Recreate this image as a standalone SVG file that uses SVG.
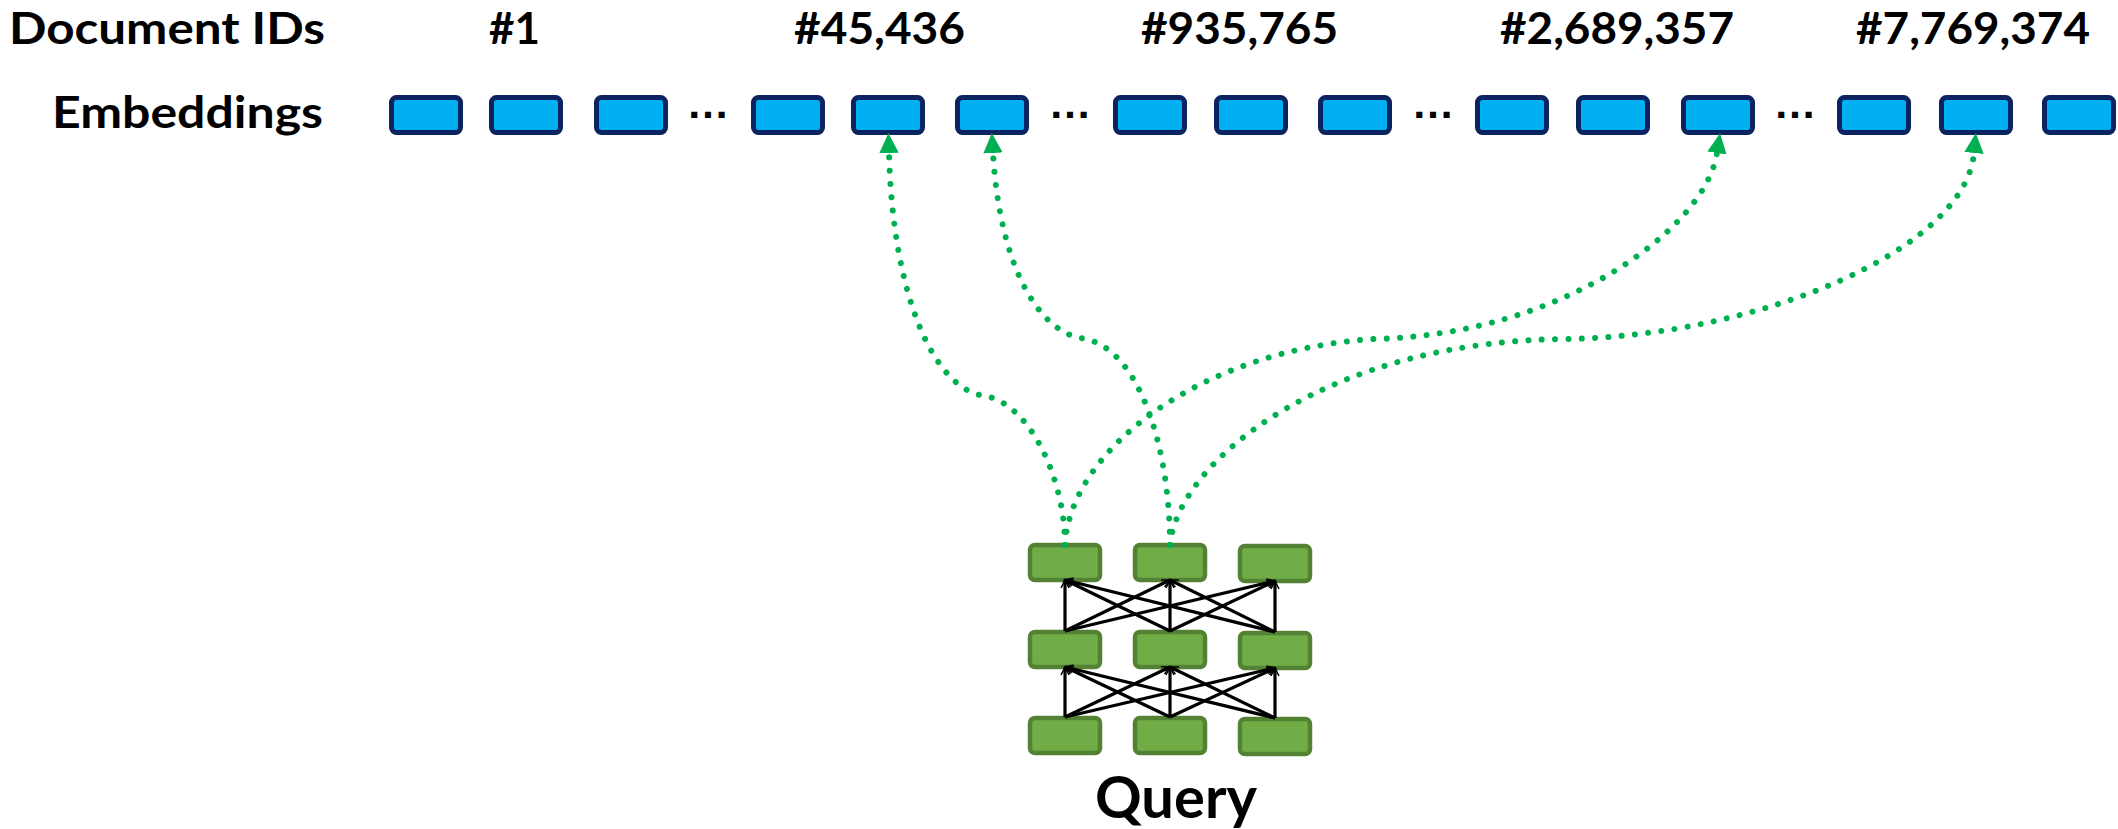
<svg xmlns="http://www.w3.org/2000/svg" width="2118" height="829" viewBox="0 0 2118 829">
<style>
.lbl{font-family:Lato,"Liberation Sans",sans-serif;font-weight:700;fill:#000}
.ell{font-family:"Liberation Sans",Arial,sans-serif;font-weight:700;font-size:43px;fill:#000}
.emb{fill:#00B0F0;stroke:#0B2461;stroke-width:5}
.nn{fill:#70AD47;stroke:#548235;stroke-width:4.5}
.dot{fill:none;stroke:#00B050;stroke-width:6;stroke-linecap:round;stroke-dasharray:0.01 13.3}
.edge{stroke:#000;stroke-width:3.2;fill:none}
</style>
<defs>
<marker id="ga" markerUnits="userSpaceOnUse" viewBox="0 -11 22 22" markerWidth="22" markerHeight="22" refX="0" refY="0" orient="auto"><path d="M0,-9.7 L20,0 L0,9.7 z" fill="#00B050"/></marker>
<marker id="ka" markerUnits="userSpaceOnUse" viewBox="-10 -6 12 12" markerWidth="12" markerHeight="12" refX="0" refY="0" orient="auto"><path d="M-8,-4 L0,0 L-8,4" fill="none" stroke="#000" stroke-width="1.5"/></marker>
</defs>
<rect width="2118" height="829" fill="#fff"/>

<g id="labels">
<text class="lbl" x="9" y="44" font-size="44" textLength="316" lengthAdjust="spacingAndGlyphs">Document IDs</text>
<text class="lbl" x="52" y="128" font-size="44" textLength="271" lengthAdjust="spacingAndGlyphs">Embeddings</text>
</g>

<g id="doc-ids">
<text class="lbl" x="489" y="44" font-size="44" textLength="51" lengthAdjust="spacingAndGlyphs">#1</text>
<text class="lbl" x="794" y="44" font-size="44" textLength="171" lengthAdjust="spacingAndGlyphs">#45,436</text>
<text class="lbl" x="1141" y="44" font-size="44" textLength="197" lengthAdjust="spacingAndGlyphs">#935,765</text>
<text class="lbl" x="1500" y="44" font-size="44" textLength="234" lengthAdjust="spacingAndGlyphs">#2,689,357</text>
<text class="lbl" x="1856" y="44" font-size="44" textLength="234" lengthAdjust="spacingAndGlyphs">#7,769,374</text>
</g>

<g id="embeddings">
<rect id="emb-1" class="emb" x="391.5" y="97.5" width="69" height="35" rx="5"/>
<rect id="emb-2" class="emb" x="491.5" y="97.5" width="69" height="35" rx="5"/>
<rect id="emb-3" class="emb" x="596.5" y="97.5" width="69" height="35" rx="5"/>
<rect id="emb-4" class="emb" x="753.5" y="97.5" width="69" height="35" rx="5"/>
<rect id="emb-5" class="emb" x="853.5" y="97.5" width="69" height="35" rx="5"/>
<rect id="emb-6" class="emb" x="957.5" y="97.5" width="69" height="35" rx="5"/>
<rect id="emb-7" class="emb" x="1115.5" y="97.5" width="69" height="35" rx="5"/>
<rect id="emb-8" class="emb" x="1216.5" y="97.5" width="69" height="35" rx="5"/>
<rect id="emb-9" class="emb" x="1320.5" y="97.5" width="69" height="35" rx="5"/>
<rect id="emb-10" class="emb" x="1477.5" y="97.5" width="69" height="35" rx="5"/>
<rect id="emb-11" class="emb" x="1578.5" y="97.5" width="69" height="35" rx="5"/>
<rect id="emb-12" class="emb" x="1683.5" y="97.5" width="69" height="35" rx="5"/>
<rect id="emb-13" class="emb" x="1839.5" y="97.5" width="69" height="35" rx="5"/>
<rect id="emb-14" class="emb" x="1941.5" y="97.5" width="69" height="35" rx="5"/>
<rect id="emb-15" class="emb" x="2044.5" y="97.5" width="69" height="35" rx="5"/>
<text class="ell" x="708" y="118" text-anchor="middle">…</text>
<text class="ell" x="1070" y="118" text-anchor="middle">…</text>
<text class="ell" x="1433" y="118" text-anchor="middle">…</text>
<text class="ell" x="1795" y="118" text-anchor="middle">…</text>
</g>

<g id="query-network">
<rect id="q-top-1" class="nn" x="1030" y="545" width="70" height="35" rx="5"/>
<rect id="q-top-2" class="nn" x="1135" y="545" width="70" height="35" rx="5"/>
<rect id="q-top-3" class="nn" x="1240" y="546" width="70" height="35" rx="5"/>
<rect id="q-mid-1" class="nn" x="1030" y="632" width="70" height="35" rx="5"/>
<rect id="q-mid-2" class="nn" x="1135" y="632" width="70" height="35" rx="5"/>
<rect id="q-mid-3" class="nn" x="1240" y="633" width="70" height="35" rx="5"/>
<rect id="q-bot-1" class="nn" x="1030" y="718" width="70" height="35" rx="5"/>
<rect id="q-bot-2" class="nn" x="1135" y="718" width="70" height="35" rx="5"/>
<rect id="q-bot-3" class="nn" x="1240" y="719" width="70" height="35" rx="5"/>
<text class="lbl" x="1095" y="818" font-size="58" textLength="162" lengthAdjust="spacingAndGlyphs">Query</text>
</g>

<g id="connectors">
<g id="layer-edges" marker-end="url(#ka)">
<line class="edge" x1="1065" y1="717" x2="1065" y2="667"/>
<line class="edge" x1="1065" y1="717" x2="1170" y2="667"/>
<line class="edge" x1="1065" y1="717" x2="1275" y2="668"/>
<line class="edge" x1="1170" y1="717" x2="1065" y2="667"/>
<line class="edge" x1="1170" y1="717" x2="1170" y2="667"/>
<line class="edge" x1="1170" y1="717" x2="1275" y2="668"/>
<line class="edge" x1="1275" y1="718" x2="1065" y2="667"/>
<line class="edge" x1="1275" y1="718" x2="1170" y2="667"/>
<line class="edge" x1="1275" y1="718" x2="1275" y2="668"/>
<line class="edge" x1="1065" y1="631" x2="1065" y2="580"/>
<line class="edge" x1="1065" y1="631" x2="1170" y2="580"/>
<line class="edge" x1="1065" y1="631" x2="1275" y2="581"/>
<line class="edge" x1="1170" y1="631" x2="1065" y2="580"/>
<line class="edge" x1="1170" y1="631" x2="1170" y2="580"/>
<line class="edge" x1="1170" y1="631" x2="1275" y2="581"/>
<line class="edge" x1="1275" y1="632" x2="1065" y2="580"/>
<line class="edge" x1="1275" y1="632" x2="1170" y2="580"/>
<line class="edge" x1="1275" y1="632" x2="1275" y2="581"/>
</g>
<g id="retrieval-links" marker-end="url(#ga)">
<path class="dot" d="M1065,545 C1065,480 1030,400 980,395 C935,385 893,300 889,153"/>
<path class="dot" d="M1170,545 C1170,450 1140,345 1080,338 C1040,330 1000,270 993,153"/>
<path class="dot" d="M1065,545 C1070,450 1200,350 1374,339 C1560,335 1705,230 1717,153"/>
<path class="dot" d="M1170,545 C1178,460 1330,340 1568,339 C1760,335 1965,250 1974,153"/>
</g>
</g>
</svg>
